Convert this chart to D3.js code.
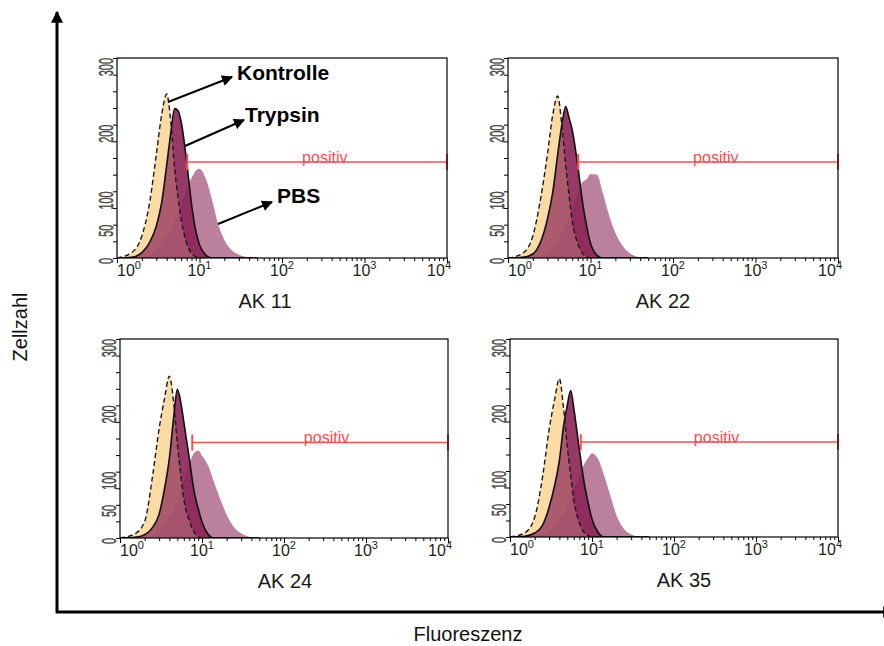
<!DOCTYPE html>
<html>
<head>
<meta charset="utf-8">
<title>Zellzahl / Fluoreszenz</title>
<script src="https://cdn.jsdelivr.net/npm/d3@7"></script>
<style>
  body { margin: 0; background: #fff; }
  svg text { font-family: "Liberation Sans", Arial, sans-serif; }
</style>
</head>
<body>
<div id="chart"></div>
<script>
// fluorescence channels shared by every histogram
var fluor = [1, 1.5, 2, 2.5, 3, 3.5, 4, 4.5, 5, 5.5, 6, 7, 8, 9, 10, 12, 14, 17, 20, 25, 30, 40, 50];

var panelNames = ["AK 11", "AK 22", "AK 24", "AK 35"];

// cell counts per channel, one row per panel (AK 11, AK 22, AK 24, AK 35)
var kontrolle = [
  [0, 8, 33, 85, 156, 217, 246, 203, 134, 90, 58, 22, 7, 2, 0, 0, 0, 0, 0, 0, 0, 0, 0],
  [0, 7, 33, 91, 155, 216, 243, 198, 139, 94, 56, 22, 7, 2, 0, 0, 0, 0, 0, 0, 0, 0, 0],
  [0, 6, 25, 94, 165, 211, 244, 206, 143, 96, 59, 26, 9, 2, 0, 0, 0, 0, 0, 0, 0, 0, 0],
  [0, 6, 30, 92, 163, 208, 240, 195, 137, 93, 56, 22, 7, 2, 0, 0, 0, 0, 0, 0, 0, 0, 0]
];
var trypsin = [
  [0, 1, 8, 24, 48, 85, 139, 189, 224, 221, 204, 144, 81, 41, 20, 4, 0, 0, 0, 0, 0, 0, 0],
  [0, 1, 6, 25, 58, 100, 155, 200, 227, 210, 192, 139, 84, 47, 22, 4, 0, 0, 0, 0, 0, 0, 0],
  [0, 1, 5, 16, 36, 75, 120, 180, 224, 205, 175, 120, 71, 44, 24, 5, 0, 0, 0, 0, 0, 0, 0],
  [0, 1, 6, 18, 45, 78, 116, 168, 200, 222, 195, 133, 83, 51, 27, 6, 0, 0, 0, 0, 0, 0, 0]
];
var pbs = [
  [0, 0, 1, 4, 13, 24, 33, 43, 56, 68, 80, 103, 120, 131, 134, 118, 90, 49, 27, 11, 5, 1, 0],
  [0, 0, 1, 3, 8, 17, 27, 37, 48, 60, 73, 95, 114, 118, 126, 125, 99, 62, 38, 17, 7, 1, 0],
  [0, 0, 1, 4, 11, 21, 32, 44, 58, 74, 88, 112, 128, 132, 124, 108, 84, 56, 35, 15, 7, 1, 0],
  [0, 0, 1, 3, 8, 16, 26, 36, 47, 60, 72, 92, 110, 120, 127, 117, 94, 60, 32, 11, 4, 0, 0]
];

// "positiv" gate per panel
var gateStart = [7.1, 7.1, 7.6, 7.3];
var gateEnd = 10000;
var gateLevel = 144;
var gateLabel = "positiv";

var yLabels = [0, 50, 100, 200, 300];
var xDecades = [0, 1, 2, 3, 4];

// layout of the four small plots
var panels = [
  {x: 117, y: 58, w: 330, h: 200, tx: 265},
  {x: 508, y: 58, w: 330, h: 200, tx: 663},
  {x: 120, y: 339, w: 328, h: 199, tx: 285},
  {x: 510, y: 339, w: 328, h: 198, tx: 684}
];

var colKontrolle = "#fadba4", colTrypsin = "#8c2456", colPbs = "#bb809e", colGate = "#ff4f4f";

var svg = d3.select("#chart").append("svg")
  .attr("width", 884)
  .attr("height", 646);

var defs = svg.append("defs");
defs.append("marker")
  .attr("id", "head")
  .attr("viewBox", "0 0 10 10")
  .attr("refX", 9).attr("refY", 5)
  .attr("markerWidth", 12).attr("markerHeight", 11)
  .attr("markerUnits", "userSpaceOnUse")
  .attr("orient", "auto")
  .append("path").attr("d", "M0,0 L10,5 L0,10 z").attr("fill", "#000");
defs.append("marker")
  .attr("id", "bighead")
  .attr("viewBox", "0 0 10 10")
  .attr("refX", 9).attr("refY", 5)
  .attr("markerWidth", 12).attr("markerHeight", 12)
  .attr("markerUnits", "userSpaceOnUse")
  .attr("orient", "auto")
  .append("path").attr("d", "M0,0 L10,5 L0,10 z").attr("fill", "#000");

// minor log ticks
var minor = [];
for (var e = 0; e < 4; e++) {
  for (var m = 2; m < 10; m++) minor.push(m * Math.pow(10, e));
}

panels.forEach(function(p, i) {
  var x = d3.scaleLog().domain([1, 10000]).range([p.x, p.x + p.w]);
  var y = d3.scaleLinear().domain([0, 300]).range([p.y + p.h, p.y]);
  var g = svg.append("g");

  defs.append("clipPath").attr("id", "clip" + i)
    .append("rect").attr("x", p.x).attr("y", p.y).attr("width", p.w).attr("height", p.h);

  var area = d3.area()
    .x(function(d) { return x(d[0]); })
    .y0(y(0))
    .y1(function(d) { return y(d[1]); })
    .curve(d3.curveMonotoneX);
  var line = d3.line()
    .x(function(d) { return x(d[0]); })
    .y(function(d) { return y(d[1]); })
    .curve(d3.curveMonotoneX);

  var k = d3.zip(fluor, kontrolle[i]);
  var t = d3.zip(fluor, trypsin[i]);
  var b = d3.zip(fluor, pbs[i]);

  var plot = g.append("g").attr("clip-path", "url(#clip" + i + ")");
  plot.append("path").attr("d", area(k)).attr("fill", colKontrolle);
  plot.append("path").attr("d", area(b)).attr("fill", colPbs);
  plot.append("path").attr("d", area(t)).attr("fill", colTrypsin).attr("fill-opacity", 0.9);
  plot.append("path").attr("d", area(k)).attr("fill", colKontrolle).attr("fill-opacity", 0.22);
  plot.append("path").attr("d", line(k)).attr("fill", "none")
    .attr("stroke", "#1a1a1a").attr("stroke-width", 1.4).attr("stroke-dasharray", "5,3");
  plot.append("path").attr("d", line(t)).attr("fill", "none")
    .attr("stroke", "#111").attr("stroke-width", 1.6);

  // gate
  var gy = y(gateLevel);
  var gx0 = x(gateStart[i]), gx1 = x(gateEnd);
  g.append("line").attr("x1", gx0).attr("x2", gx1).attr("y1", gy).attr("y2", gy)
    .attr("stroke", colGate).attr("stroke-width", 1.6);
  [gx0, gx1].forEach(function(cx) {
    g.append("line").attr("x1", cx).attr("x2", cx).attr("y1", gy - 8).attr("y2", gy + 8)
      .attr("stroke", colGate).attr("stroke-width", 2);
  });
  g.append("text").attr("x", x(330)).attr("y", gy + 1)
    .attr("text-anchor", "middle").attr("font-size", "16px").attr("fill", colGate)
    .text(gateLabel);

  // frame
  g.append("rect").attr("x", p.x).attr("y", p.y).attr("width", p.w).attr("height", p.h)
    .attr("fill", "none").attr("stroke", "#000").attr("stroke-width", 1.2);

  // x axis ticks
  var bottom = p.y + p.h;
  g.append("g").attr("transform", "translate(0," + bottom + ")")
    .call(d3.axisBottom(x).tickValues(minor).tickSize(3).tickFormat(""))
    .call(function(a) { a.select(".domain").remove(); });
  g.append("g").attr("transform", "translate(0," + bottom + ")")
    .call(d3.axisBottom(x).tickValues(xDecades.map(function(d) { return Math.pow(10, d); })).tickSize(5).tickFormat(""))
    .call(function(a) { a.select(".domain").remove(); });

  xDecades.forEach(function(d, j) {
    var tx = x(Math.pow(10, d));
    var anchor = "middle";
    if (j === 0) anchor = "start";
    if (j === xDecades.length - 1) { anchor = "end"; tx += 4; }
    var lbl = g.append("text").attr("x", tx).attr("y", bottom + 18)
      .attr("text-anchor", anchor).attr("font-size", "16px").attr("fill", "#222");
    lbl.append("tspan").text("10");
    lbl.append("tspan").attr("dy", -7).attr("font-size", "11px").text(d);
  });

  // y axis ticks
  g.append("g").attr("transform", "translate(" + p.x + ",0)")
    .call(d3.axisLeft(y).tickValues(d3.range(0, 301, 25)).tickSize(4).tickFormat(""))
    .call(function(a) { a.select(".domain").remove(); });

  yLabels.forEach(function(v) {
    g.append("text")
      .attr("transform", "translate(" + (p.x - 4) + "," + y(v) + ") rotate(-90) scale(0.52,1)")
      .attr("text-anchor", "end").attr("font-size", "21px").attr("fill", "#444")
      .attr("stroke", "#555").attr("stroke-width", 0.5)
      .text(v);
  });

  // panel title
  g.append("text").attr("x", p.tx).attr("y", bottom + 50)
    .attr("text-anchor", "middle").attr("font-size", "20px").attr("fill", "#1a1a1a")
    .text(panelNames[i]);
});

// annotations on the first panel
var notes = [
  {label: "Kontrolle", x1: 168, y1: 102, x2: 232, y2: 77, tx: 237, ty: 80},
  {label: "Trypsin", x1: 185, y1: 146, x2: 244, y2: 120, tx: 245, ty: 122},
  {label: "PBS", x1: 218, y1: 224, x2: 272, y2: 202, tx: 277, ty: 203}
];
notes.forEach(function(n) {
  svg.append("line").attr("x1", n.x1).attr("y1", n.y1).attr("x2", n.x2).attr("y2", n.y2)
    .attr("stroke", "#000").attr("stroke-width", 2).attr("marker-end", "url(#head)");
  svg.append("text").attr("x", n.tx).attr("y", n.ty)
    .attr("font-size", "21px").attr("font-weight", "bold").attr("fill", "#000")
    .text(n.label);
});

// outer axes
svg.append("line").attr("x1", 57).attr("y1", 613).attr("x2", 57).attr("y2", 12)
  .attr("stroke", "#000").attr("stroke-width", 3).attr("marker-end", "url(#bighead)");
svg.append("line").attr("x1", 56).attr("y1", 612).attr("x2", 894).attr("y2", 612)
  .attr("stroke", "#000").attr("stroke-width", 3).attr("marker-end", "url(#bighead)");

svg.append("text")
  .attr("transform", "translate(27,327) rotate(-90)")
  .attr("text-anchor", "middle").attr("font-size", "20px").attr("fill", "#111")
  .text("Zellzahl");
svg.append("text").attr("x", 468).attr("y", 641)
  .attr("text-anchor", "middle").attr("font-size", "20px").attr("fill", "#111")
  .text("Fluoreszenz");
</script>
</body>
</html>
